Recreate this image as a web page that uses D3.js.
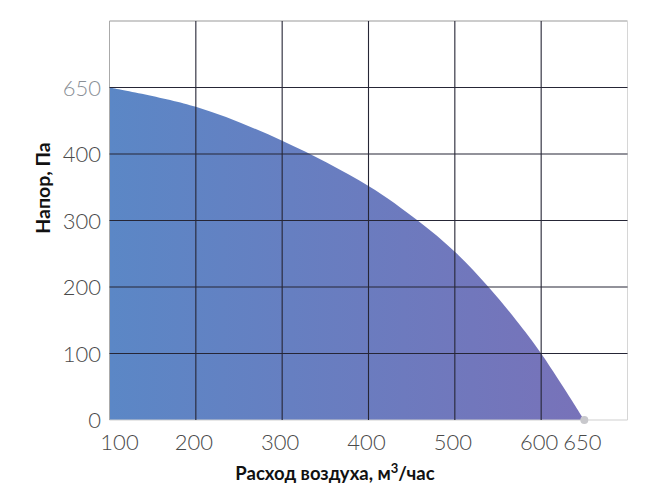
<!DOCTYPE html>
<html>
<head>
<meta charset="utf-8">
<script src="https://cdn.jsdelivr.net/npm/d3@7"></script>
<style>
  body { margin: 0; background: #fff; }
  text { font-family: Lato, sans-serif; }
</style>
</head>
<body>
<div id="chart"></div>
<script>
'use strict';

// curve (x = air flow, y = position on the pressure scale)
const flow = [100, 200, 300, 400, 457, 500, 539, 571, 600, 650];
const pressure = [500, 471, 420, 352, 300, 253, 200, 150, 100, 0];

// ticks and their labels (last y tick shows the real max pressure)
const x_ticks = [100, 200, 300, 400, 500, 600, 650];
const x_labels = ['100', '200', '300', '400', '500', '600', '650'];
const y_ticks = [0, 100, 200, 300, 400, 500];
const y_labels = ['0', '100', '200', '300', '400', '650'];
const grid_x = [200, 300, 400, 500, 600];
const grid_y = [100, 200, 300, 400, 500];

const width = 654, height = 500;
const margin = { left: 109.5, right: 26.5, top: 21, bottom: 80 };

const svg = d3.select('#chart').append('svg')
    .attr('width', width)
    .attr('height', height);

const x = d3.scaleLinear().domain([100, 700]).range([margin.left, width - margin.right]);
const y = d3.scaleLinear().domain([0, 600]).range([height - margin.bottom, margin.top]);

// gradient for the area
const grad = svg.append('defs').append('linearGradient')
    .attr('id', 'fill_grad')
    .attr('gradientUnits', 'userSpaceOnUse')
    .attr('x1', x(100)).attr('x2', x(650))
    .attr('y1', 0).attr('y2', 0);
grad.append('stop').attr('offset', '0%').attr('stop-color', '#5b87c6');
grad.append('stop').attr('offset', '100%').attr('stop-color', '#7872b9');

const pts = flow.map((f, i) => [f, pressure[i]]);

svg.append('path')
    .datum(pts)
    .attr('fill', 'url(#fill_grad)')
    .attr('d', d3.area()
        .x(d => x(d[0]))
        .y0(y(0))
        .y1(d => y(d[1]))
        .curve(d3.curveCatmullRom.alpha(0.5)));

// outer frame
const frame = svg.append('g');
frame.append('line').attr('x1', x(100)).attr('x2', x(700)).attr('y1', y(600)).attr('y2', y(600))
    .attr('stroke', '#999');
frame.append('line').attr('x1', x(700)).attr('x2', x(700)).attr('y1', y(600)).attr('y2', y(0))
    .attr('stroke', '#d6d6d6');
frame.append('line').attr('x1', x(100)).attr('x2', x(700)).attr('y1', y(0)).attr('y2', y(0))
    .attr('stroke', '#cfcfcf');
frame.append('line').attr('x1', x(100)).attr('x2', x(100)).attr('y1', y(600)).attr('y2', y(0))
    .attr('stroke', '#aaa');

// inner grid
svg.append('g').selectAll('line')
    .data(grid_x)
    .enter()
    .append('line')
    .attr('x1', d => x(d)).attr('x2', d => x(d))
    .attr('y1', y(600)).attr('y2', y(0))
    .attr('stroke', '#262636')
    .attr('stroke-width', 1.1);

svg.append('g').selectAll('line')
    .data(grid_y)
    .enter()
    .append('line')
    .attr('x1', x(100)).attr('x2', x(700))
    .attr('y1', d => y(d)).attr('y2', d => y(d))
    .attr('stroke', '#262636')
    .attr('stroke-width', 1.1);

// end point of the curve
svg.append('circle')
    .attr('cx', x(650)).attr('cy', y(0))
    .attr('r', 4)
    .attr('fill', '#c8c8cc');

// x tick labels
svg.append('g').selectAll('text')
    .data(x_ticks)
    .enter()
    .append('text')
    .attr('x', d => x(d))
    .attr('dx', (d, i) => i === 0 ? 10 : -2)
    .attr('y', 450)
    .attr('text-anchor', 'middle')
    .attr('font-size', '22px')
    .attr('font-weight', 300)
    .attr('fill', '#4a4a4a')
    .text((d, i) => x_labels[i]);

// y tick labels
svg.append('g').selectAll('text')
    .data(y_ticks)
    .enter()
    .append('text')
    .attr('x', 101)
    .attr('y', d => y(d) + 8)
    .attr('text-anchor', 'end')
    .attr('font-size', '22px')
    .attr('font-weight', 300)
    .attr('fill', (d, i) => i === y_ticks.length - 1 ? '#8a8f96' : '#4a4a4a')
    .text((d, i) => y_labels[i]);

// axis titles
svg.append('text')
    .attr('transform', 'translate(50,188) rotate(-90)')
    .attr('text-anchor', 'middle')
    .attr('font-size', '19.5px')
    .attr('font-weight', 700)
    .attr('fill', '#111')
    .text('Напор, Па');

const xt = svg.append('text')
    .attr('x', 335)
    .attr('y', 480)
    .attr('text-anchor', 'middle')
    .attr('font-size', '18.5px')
    .attr('font-weight', 700)
    .attr('fill', '#111');
xt.append('tspan').text('Расход воздуха, м');
xt.append('tspan').attr('dy', -7).attr('font-size', '13px').text('3');
xt.append('tspan').attr('dy', 7).text('/час');
</script>
</body>
</html>
